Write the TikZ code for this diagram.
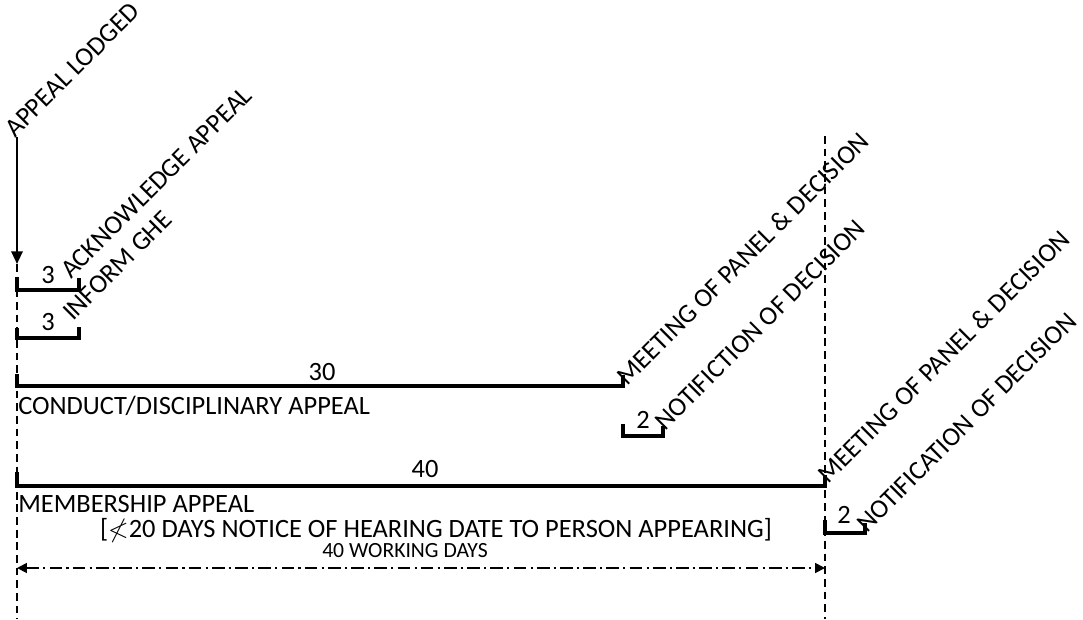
\documentclass[tikz,border=0pt]{standalone}
\usepackage{amssymb}
\usepackage{fontspec}
\setmainfont{Carlito}
\usetikzlibrary{arrows.meta,positioning}

\begin{document}
\begin{tikzpicture}[
    x=0.025cm, y=-0.025cm,
    every node/.style={inner sep=0pt, font=\fontsize{18.8}{21}\selectfont},
    span/.style={line width=2.4pt},
    guide/.style={line width=1.3pt, dash pattern=on 5.5pt off 3.5pt},
    tag/.style={rotate=45, anchor=base west},
    num/.style={anchor=base},
    note/.style={anchor=base west}
]
    \useasboundingbox (0,0) rectangle (1083,619);

    % time lines
    \coordinate (lodged) at (17,137);
    \coordinate (start) at (17,264);
    \coordinate (endL) at (17,619);
    \coordinate (topR) at (825,136);
    \coordinate (endR) at (825,619);
    \draw[line width=1.6pt, -{Triangle[length=9pt, width=8pt]}] (lodged) -- (start);
    \draw[guide] (start) -- (endL);
    \draw[guide] (topR) -- (endR);

    % events
    \node[tag] (t1) at (15,139) {APPEAL LODGED};
    \draw[span] (17,277) |- (79,290) -- (79,278);
    \node[num] (n1) at (48,283) {3};
    \node[tag] (t2) at (71,280) {ACKNOWLEDGE APPEAL};
    \draw[span] (17,328) |- (79,338) -- (79,327);
    \node[num] (n2) at (48,330) {3};
    \node[tag] (t3) at (73,322) {INFORM GHE};

    % conduct appeal
    \draw[span] (17,374) |- (623,386) -- (623,375);
    \node[num] (n3) at (322,380) {30};
    \node[tag] (t4) at (627,387) {MEETING OF PANEL \& DECISION};
    \node[note] (c1) at (18,414) {CONDUCT/DISCIPLINARY APPEAL};
    \draw[span] (623,424) |- (663,436) -- (663,426);
    \node[num] (n4) at (643,428) {2};
    \node[tag] (t5) at (665,432) {NOTIFICTION OF DECISION};

    % membership appeal
    \draw[span] (17,472) |- (825,486) -- (825,475);
    \node[num] (n5) at (425,477) {40};
    \node[tag] (t6) at (828,485) {MEETING OF PANEL \& DECISION};
    \node[note] (c2) at (18,512) {MEMBERSHIP APPEAL};
    \node[num] (c3) at (436,537) {[$\nless$20 DAYS NOTICE OF HEARING DATE TO PERSON APPEARING]};
    \node[num, font=\fontsize{15.4}{17}\selectfont] (c4) at (405,557) {40 WORKING DAYS};
    \draw[span] (825,520) |- (865,533) -- (865,523);
    \node[num] (n6) at (844,523) {2};
    \node[tag] (t7) at (867,534) {NOTIFICATION OF DECISION};

    % overall period
    \coordinate (p1) at (17,568);
    \coordinate (p2) at (825,568);
    \draw[line width=1.3pt, dash pattern=on 9pt off 3pt on 1.5pt off 3pt,
          {Triangle[length=7pt, width=7pt]}-{Triangle[length=7pt, width=7pt]}] (p1) -- (p2);
\end{tikzpicture}
\end{document}
